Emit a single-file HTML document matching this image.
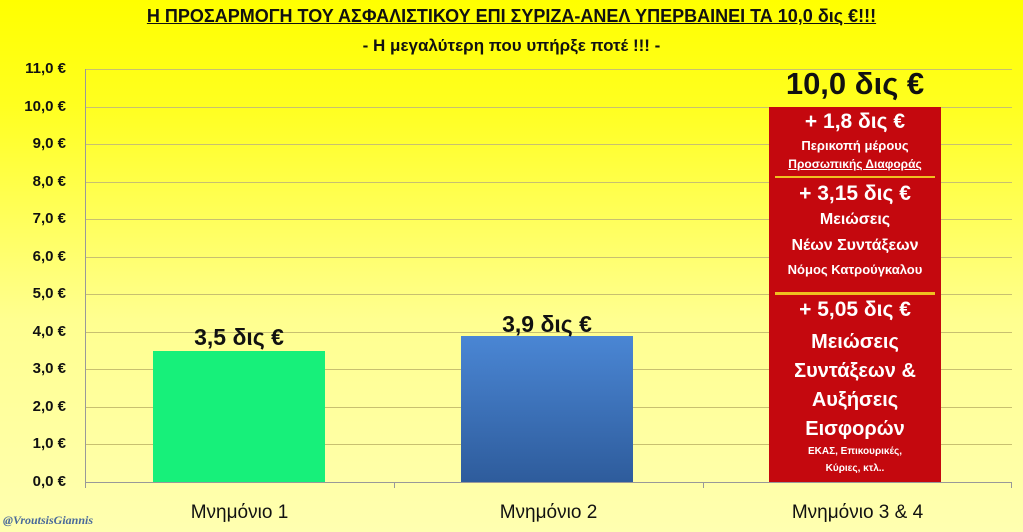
<!DOCTYPE html>
<html><head><meta charset="utf-8"><style>
body{margin:0;width:1023px;height:532px;overflow:hidden;font-family:"Liberation Sans","DejaVu Sans",sans-serif;}
#c{position:relative;width:1023px;height:532px;background:linear-gradient(#ffff00 0%,#ffff20 20%,#ffff90 60%,#ffffb0 100%);}
.a{position:absolute;}
.g{position:absolute;left:85px;width:927px;height:1px;background:#c8c070;}
.yl{position:absolute;left:0;width:66px;text-align:right;font-weight:bold;font-size:15px;color:#111;}
.cat{position:absolute;width:309px;text-align:center;font-size:19px;color:#111;top:502px;}
.rt{position:absolute;left:769px;width:172px;text-align:center;color:#fff;font-weight:bold;}
</style></head><body><div id="c">
<div class="a" style="left:0;width:1023px;top:6px;text-align:center;font-size:18px;font-weight:bold;text-decoration:underline;color:#111">Η ΠΡΟΣΑΡΜΟΓΗ ΤΟΥ ΑΣΦΑΛΙΣΤΙΚΟΥ ΕΠΙ ΣΥΡΙΖΑ-ΑΝΕΛ ΥΠΕΡΒΑΙΝΕΙ ΤΑ 10,0 δις €!!!</div>
<div class="a" style="left:0;width:1023px;top:36px;text-align:center;font-size:17px;font-weight:bold;color:#111">- Η μεγαλύτερη που υπήρξε ποτέ !!! -</div>
<div class="g" style="top:69px"></div><div class="g" style="top:107px"></div><div class="g" style="top:144px"></div><div class="g" style="top:182px"></div><div class="g" style="top:219px"></div><div class="g" style="top:257px"></div><div class="g" style="top:294px"></div><div class="g" style="top:332px"></div><div class="g" style="top:369px"></div><div class="g" style="top:407px"></div><div class="g" style="top:444px"></div><div class="g" style="top:482px;background:#999"></div>
<div class="a" style="left:85px;top:69px;width:1px;height:419px;background:#999"></div>
<div class="a" style="left:394px;top:482px;width:1px;height:6px;background:#999"></div>
<div class="a" style="left:703px;top:482px;width:1px;height:6px;background:#999"></div>
<div class="a" style="left:1011px;top:482px;width:1px;height:6px;background:#999"></div>
<div class="yl" style="top:60px">11,0 €</div><div class="yl" style="top:98px">10,0 €</div><div class="yl" style="top:135px">9,0 €</div><div class="yl" style="top:173px">8,0 €</div><div class="yl" style="top:210px">7,0 €</div><div class="yl" style="top:248px">6,0 €</div><div class="yl" style="top:285px">5,0 €</div><div class="yl" style="top:323px">4,0 €</div><div class="yl" style="top:360px">3,0 €</div><div class="yl" style="top:398px">2,0 €</div><div class="yl" style="top:435px">1,0 €</div><div class="yl" style="top:473px">0,0 €</div>
<div class="a" style="left:153px;top:351px;width:172px;height:131px;background:#17f07a"></div>
<div class="a" style="left:461px;top:336px;width:172px;height:146px;background:linear-gradient(#4a86d4,#2e5c9c);"></div>
<div class="a" style="left:769px;top:107px;width:172px;height:375px;background:#c4080e"></div>
<div class="a" style="left:153px;width:172px;top:324px;text-align:center;font-size:23px;font-weight:bold;color:#111">3,5 δις €</div>
<div class="a" style="left:461px;width:172px;top:311px;text-align:center;font-size:23px;font-weight:bold;color:#111">3,9 δις €</div>
<div class="a" style="left:739px;width:232px;top:66px;text-align:center;font-size:31px;font-weight:bold;color:#111">10,0 δις €</div>
<div class="rt" style="top:110px;font-size:21px">+ 1,8 δις €</div>
<div class="rt" style="top:138px;font-size:13px">Περικοπή μέρους</div>
<div class="rt" style="top:157px;font-size:12px;text-decoration:underline">Προσωπικής Διαφοράς</div>
<div class="a" style="left:775px;top:176px;width:160px;height:2px;background:#f0c020"></div>
<div class="rt" style="top:182px;font-size:21px">+ 3,15 δις €</div>
<div class="rt" style="top:211px;font-size:16px">Μειώσεις</div>
<div class="rt" style="top:237px;font-size:16px">Νέων Συντάξεων</div>
<div class="rt" style="top:262px;font-size:13px">Νόμος Κατρούγκαλου</div>
<div class="a" style="left:775px;top:292px;width:160px;height:3px;background:#f0c020"></div>
<div class="rt" style="top:298px;font-size:21px">+ 5,05 δις €</div>
<div class="rt" style="top:331px;font-size:20px">Μειώσεις</div>
<div class="rt" style="top:360px;font-size:20px">Συντάξεων &amp;</div>
<div class="rt" style="top:389px;font-size:20px">Αυξήσεις</div>
<div class="rt" style="top:418px;font-size:20px">Εισφορών</div>
<div class="rt" style="top:446px;font-size:10px">ΕΚΑΣ, Επικουρικές,</div>
<div class="rt" style="top:463px;font-size:10px">Κύριες, κτλ..</div>
<div class="cat" style="left:85px">Μνημόνιο 1</div>
<div class="cat" style="left:394px">Μνημόνιο 2</div>
<div class="cat" style="left:703px">Μνημόνιο 3 &amp; 4</div>
<div class="a" style="left:3px;top:513px;font-family:'Liberation Serif',serif;font-style:italic;font-weight:bold;font-size:12px;color:#4a6a9a">@VroutsisGiannis</div>
</div></body></html>
